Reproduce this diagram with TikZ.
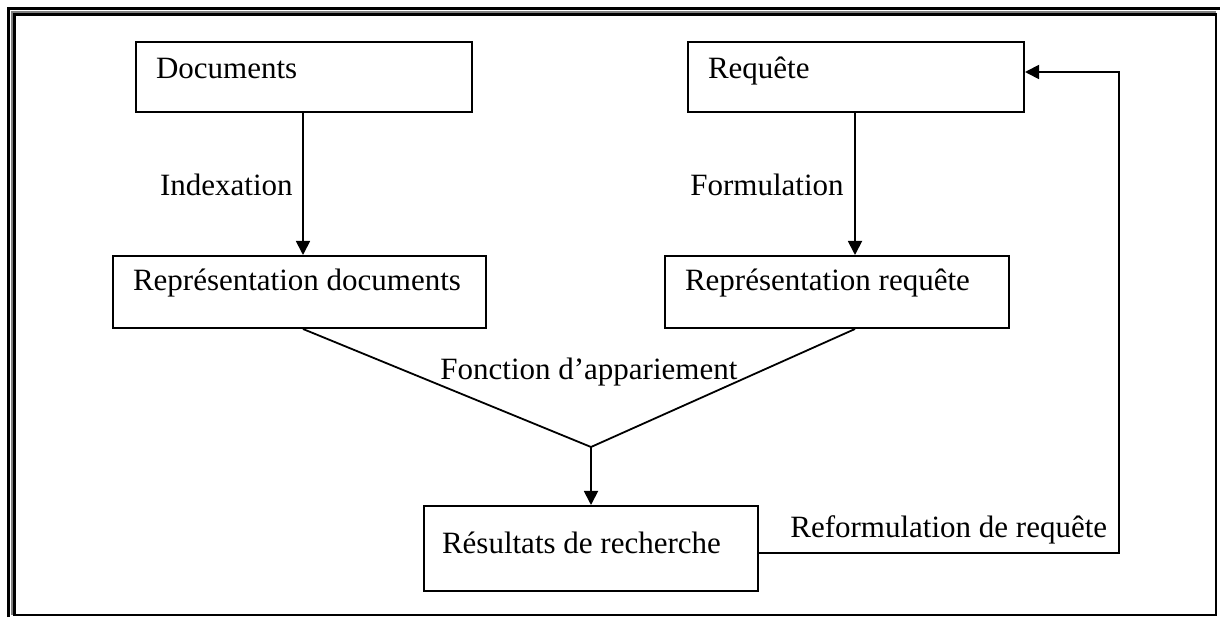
\documentclass[tikz,border=0pt]{standalone}
\usepackage{fontspec}
\setmainfont{Liberation Serif}
\usetikzlibrary{arrows.meta}
\newcommand{\boxtext}[2]{\makebox[#1][l]{#2}}
\begin{document}
\begin{tikzpicture}[x=0.5pt,y=-0.5pt,
  every node/.style={font=\fontsize{15.5}{18}\selectfont},
  box/.style={draw,line width=1pt,rectangle,anchor=north west,
    inner xsep=10pt,inner ysep=0pt,text height=0.72em,text depth=0.25em+3pt},
  lbl/.style={inner sep=0pt},
  flow/.style={line width=0.9pt},
  arr/.style={flow,-{Triangle[length=7pt,width=7pt]}}]
\useasboundingbox (0,0) rectangle (1220,619);
% frame: thick outer line on top and left, inner rectangle all round
\draw[line width=1.5pt] (8.5,617) -- (8.5,8.5) -- (1220,8.5);
\draw[gray,line width=0.6pt] (12,615) -- (12,12) -- (1216,12);
\draw[line width=1.3pt] (14.5,14.5) rectangle (1216,615);
% boxes
\node[box,minimum width=168pt,minimum height=35pt] (doc) at (135,41) {\boxtext{148pt}{Documents}};
\node[box,minimum width=168pt,minimum height=35pt] (req) at (687,41) {\boxtext{148pt}{Requête}};
\node[box,minimum width=186.5pt,minimum height=36pt,text depth=0.25em+6pt] (rd) at (112,255) {\boxtext{166.5pt}{Représentation documents}};
\node[box,minimum width=172pt,minimum height=36pt,text depth=0.25em+6pt] (rr) at (664,255) {\boxtext{152pt}{Représentation requête}};
\node[box,minimum width=167pt,minimum height=42.5pt,inner xsep=9pt,text depth=0.25em] (res) at (423,505) {\boxtext{149pt}{Résultats de recherche}};
% labels
\node[lbl,anchor=base east] (lidx) at (293,196) {Indexation};
\node[lbl,anchor=base east] (lfor) at (844,196) {Formulation};
\node[lbl,anchor=base west] (lfon) at (440,380) {Fonction d’appariement};
\node[lbl,anchor=base west] (lref) at (790,538) {Reformulation de requête};
% connectors
\draw[arr] (doc.south -| 303,0) -- (rd.north -| 303,0);
\draw[arr] (req.south -| 855,0) -- (rr.north -| 855,0);
\coordinate (apex) at (591,447);
\draw[flow] (rd.south -| 303,0) -- (apex) -- (rr.south -| 855,0);
\draw[arr] (apex) -- (res.north -| apex);
\coordinate (c1) at (1119,553);
\coordinate (c2) at (1119,72);
\draw[arr] (res.east |- c1) -- (c1) -- (c2) -- (req.east |- c2);
\end{tikzpicture}
\end{document}
